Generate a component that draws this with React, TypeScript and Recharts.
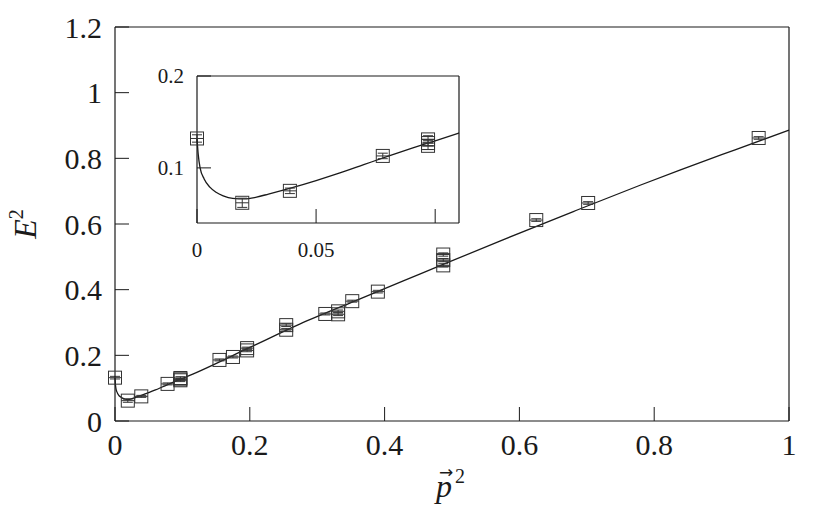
import { ComposedChart, Line, Scatter, XAxis, YAxis, ErrorBar } from "recharts";

// measured points (p^2, E^2), with a small error on E^2
const pointX = [0, 0.019, 0.039, 0.078, 0.097, 0.097, 0.097, 0.155, 0.175, 0.196, 0.196, 0.254, 0.254, 0.312, 0.331, 0.331, 0.352, 0.39, 0.487, 0.487, 0.487, 0.625, 0.702, 0.955];
const pointY = [0.132, 0.062, 0.075, 0.113, 0.124, 0.127, 0.131, 0.186, 0.195, 0.215, 0.222, 0.278, 0.292, 0.326, 0.325, 0.334, 0.365, 0.394, 0.474, 0.49, 0.507, 0.612, 0.664, 0.862];
const pointErr = [0.004, 0.005, 0.003, 0.003, 0.004, 0.003, 0.004, 0.003, 0.003, 0.004, 0.003, 0.004, 0.004, 0.003, 0.004, 0.004, 0.003, 0.004, 0.005, 0.005, 0.005, 0.004, 0.004, 0.004];

// fit curve
const curveX = [0, 0.0005, 0.0013, 0.003, 0.0054, 0.008, 0.011, 0.015, 0.02, 0.025, 0.03, 0.04, 0.05, 0.06, 0.07, 0.08, 0.09, 0.1, 0.11, 0.2, 0.274, 0.36, 0.453, 0.571, 0.68, 0.779, 0.838, 0.92, 1];
const curveY = [0.132, 0.115, 0.1, 0.088, 0.079, 0.0735, 0.0696, 0.0668, 0.0662, 0.0682, 0.0715, 0.0785, 0.0862, 0.0945, 0.1035, 0.1125, 0.1212, 0.1295, 0.138, 0.224, 0.295, 0.369, 0.448, 0.548, 0.638, 0.718, 0.764, 0.826, 0.886];

const xTicks = [0, 0.2, 0.4, 0.6, 0.8, 1];
const yTicks = [0, 0.2, 0.4, 0.6, 0.8, 1, 1.2];
const insetXTicks = [0, 0.05, 0.1];
const insetXLabels = [0, 0.05]; // the 0.1 tick has no label
const insetYTicks = [0.1, 0.2];

const points = pointX.map((x, i) => ({ x, y: pointY[i], err: pointErr[i] }));
const curve = curveX.map((x, i) => ({ x, y: curveY[i] }));
const insetPoints = points.filter((p) => p.x <= 0.11);
const insetCurve = curve.filter((p) => p.x <= 0.11);

const FONT = "'Liberation Serif', 'DejaVu Serif', serif";
const INK = "#1a1a1a";

const Box = (props: any) => {
  const { cx, cy } = props;
  if (cx == null || cy == null) return null;
  const s = 6.5;
  return (
    <g stroke="#333" strokeWidth={1} fill="none">
      <rect x={cx - s} y={cy - s} width={2 * s} height={2 * s} />
      <line x1={cx - s} x2={cx + s} y1={cy} y2={cy} />
    </g>
  );
};

const blank = () => "";
const insetXFmt = (v: number) => (insetXLabels.includes(v) ? String(v) : "");

const YTitle = (props: any) => {
  const vb = props.viewBox;
  const x = vb.x + 36;
  const y = vb.y + vb.height / 2;
  return (
    <text x={x} y={y} transform={`rotate(-90 ${x} ${y})`} textAnchor="middle" fontFamily={FONT} fontSize={32} fill={INK}>
      <tspan fontStyle="italic">E</tspan>
      <tspan fontSize={20} dy={-13}>2</tspan>
    </text>
  );
};

// p with a vector arrow over it, squared
const XTitle = (props: any) => {
  const vb = props.viewBox;
  const x0 = vb.x + vb.width / 2 - 16;
  const y = vb.y + 76;
  return (
    <text fontFamily={FONT} fill={INK} fontSize={32}>
      <tspan x={x0} y={y} fontStyle="italic">p</tspan>
      <tspan x={x0 + 3} y={y - 19} fontSize={17} fontFamily="'DejaVu Sans', sans-serif">→</tspan>
      <tspan x={x0 + 19} y={y - 14} fontSize={20}>2</tspan>
    </text>
  );
};

export default function App() {
  const tickMain = { fontFamily: FONT, fontSize: 30, fill: INK };
  const tickInset = { fontFamily: FONT, fontSize: 21, fill: INK };
  const axisLine = { stroke: INK, strokeWidth: 1.2 };
  const tickLine = { stroke: INK, strokeWidth: 1 };
  return (
    <div style={{ position: "absolute", left: 0, top: 0, width: 830, height: 507, background: "#fff" }}>
      <ComposedChart width={830} height={507} margin={{ top: 0, right: 0, bottom: 0, left: 0 }}>
        <XAxis xAxisId={0} dataKey="x" type="number" domain={[0, 1]} ticks={xTicks} height={86}
          tickSize={-14} tickMargin={27} tick={tickMain} axisLine={axisLine} tickLine={tickLine}
          label={<XTitle />} />
        <XAxis xAxisId="top" orientation="top" dataKey="x" type="number" domain={[0, 1]} ticks={xTicks} height={27}
          tickSize={-14} tickFormatter={blank} axisLine={axisLine} tickLine={tickLine} />
        <YAxis yAxisId={0} dataKey="y" type="number" domain={[0, 1.2]} ticks={yTicks} width={115}
          tickSize={-14} tickMargin={27} tick={tickMain} axisLine={axisLine} tickLine={tickLine}
          label={<YTitle />} />
        <YAxis yAxisId="right" orientation="right" type="number" domain={[0, 1.2]} ticks={yTicks} width={41}
          tickSize={-14} tickFormatter={blank} axisLine={axisLine} tickLine={tickLine} />
        <Line data={curve} dataKey="y" type="monotone" stroke={INK} strokeWidth={1.3} dot={false}
          isAnimationActive={false} />
        <Scatter data={points} dataKey="y" shape={<Box />} isAnimationActive={false}>
          <ErrorBar dataKey="err" direction="y" width={5} stroke="#333" strokeWidth={1} isAnimationActive={false} />
        </Scatter>
      </ComposedChart>

      <div style={{ position: "absolute", left: 130, top: 60 }}>
        <ComposedChart width={340} height={210} margin={{ top: 0, right: 0, bottom: 0, left: 0 }}>
          <XAxis xAxisId={0} dataKey="x" type="number" domain={[0, 0.11]} ticks={insetXTicks} height={47}
            tickSize={-14} tickMargin={33} tick={tickInset} tickFormatter={insetXFmt} axisLine={axisLine} tickLine={tickLine} />
          <XAxis xAxisId="top" orientation="top" dataKey="x" type="number" domain={[0, 0.11]} ticks={insetXTicks} height={16}
            tickSize={-14} tickFormatter={blank} axisLine={axisLine} tickLine={tickLine} />
          <YAxis yAxisId={0} dataKey="y" type="number" domain={[0.04, 0.2]} ticks={insetYTicks} width={67}
            tickSize={-14} tickMargin={27} tick={tickInset} axisLine={axisLine} tickLine={tickLine} />
          <YAxis yAxisId="right" orientation="right" type="number" domain={[0.04, 0.2]} ticks={insetYTicks} width={11}
            tickSize={-14} tickFormatter={blank} axisLine={axisLine} tickLine={tickLine} />
          <Line data={insetCurve} dataKey="y" type="monotone" stroke={INK} strokeWidth={1.3} dot={false}
            isAnimationActive={false} />
          <Scatter data={insetPoints} dataKey="y" shape={<Box />} isAnimationActive={false}>
            <ErrorBar dataKey="err" direction="y" width={5} stroke="#333" strokeWidth={1} isAnimationActive={false} />
          </Scatter>
        </ComposedChart>
      </div>
    </div>
  );
}
